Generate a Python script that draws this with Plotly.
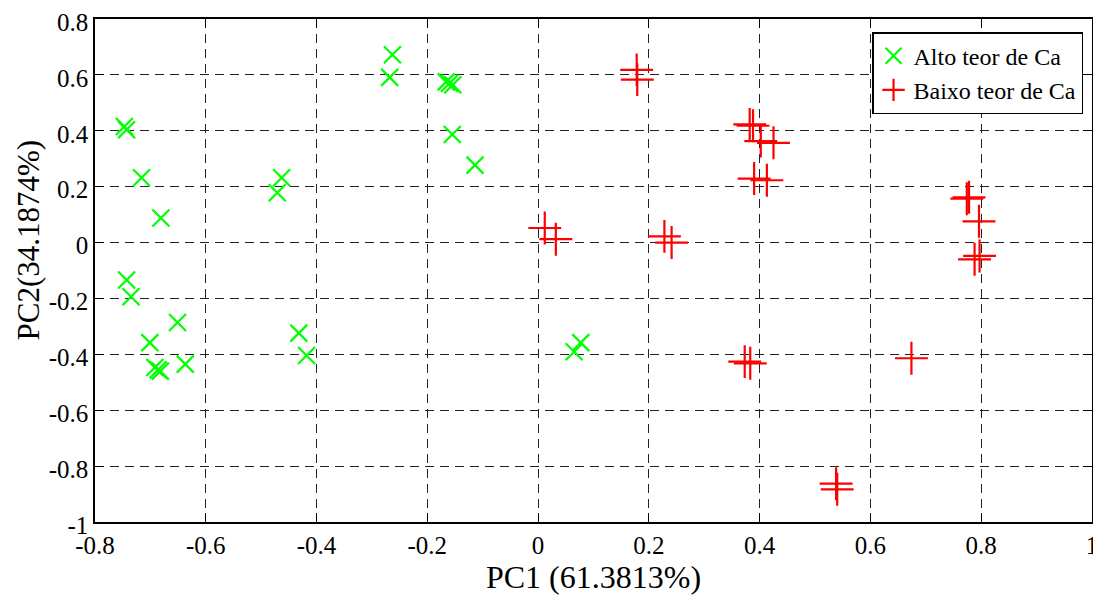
import plotly.graph_objects as go

# Alto teor de Ca (green x markers)
alto_pc1 = [-0.747, -0.743, -0.716, -0.681, -0.743, -0.735, -0.651, -0.701, -0.692, -0.686,
            -0.682, -0.637, -0.463, -0.471, -0.432, -0.418, -0.263, -0.268, -0.166, -0.160,
            -0.154, -0.155, -0.114, 0.077, 0.065]
alto_pc2 = [0.415, 0.404, 0.232, 0.088, -0.134, -0.194, -0.286, -0.358, -0.447, -0.455,
            -0.460, -0.435, 0.232, 0.178, -0.324, -0.404, 0.672, 0.591, 0.575, 0.570,
            0.565, 0.387, 0.277, -0.358, -0.391]

# Baixo teor de Ca (red + markers)
baixo_pc1 = [0.178, 0.179, 0.382, 0.388, 0.402, 0.425, 0.390, 0.413, 0.012, 0.032,
             0.228, 0.241, 0.774, 0.778, 0.796, 0.788, 0.797, 0.373, 0.383, 0.674,
             0.538, 0.540]
baixo_pc2 = [0.618, 0.583, 0.423, 0.418, 0.363, 0.357, 0.229, 0.223, 0.052, 0.012,
             0.022, 0.0, 0.157, 0.162, 0.076, -0.060, -0.048, -0.426, -0.432, -0.414,
             -0.863, -0.883]

series_names = ["Alto teor de Ca", "Baixo teor de Ca"]

x_tickvals = [-0.8, -0.6, -0.4, -0.2, 0, 0.2, 0.4, 0.6, 0.8, 1.0]
x_ticktext = ["-0.8", "-0.6", "-0.4", "-0.2", "0", "0.2", "0.4", "0.6", "0.8", "1"]
y_tickvals = [-1.0, -0.8, -0.6, -0.4, -0.2, 0, 0.2, 0.4, 0.6, 0.8]
y_ticktext = ["-1", "-0.8", "-0.6", "-0.4", "-0.2", "0", "0.2", "0.4", "0.6", "0.8"]

x_title = "PC1 (61.3813%)"
y_title = "PC2(34.1874%)"

FONT = "Times New Roman, Liberation Serif, serif"

fig = go.Figure()
fig.add_trace(go.Scatter(
    x=alto_pc1, y=alto_pc2, mode="markers", name=series_names[0],
    marker=dict(symbol="x-thin", size=17, color="#00ff00",
                line=dict(color="#00ff00", width=2.2)),
))
fig.add_trace(go.Scatter(
    x=baixo_pc1, y=baixo_pc2, mode="markers", name=series_names[1],
    marker=dict(symbol="cross-thin", size=23.5, color="#ff0000",
                line=dict(color="#ff0000", width=2.2)),
))

# page body has an 8px default margin, so the figure is sized to fit the window
fig.update_layout(
    width=1093, height=587,
    margin=dict(l=87, r=9, t=11, b=73, autoexpand=False),
    paper_bgcolor="white", plot_bgcolor="white",
    font=dict(family=FONT, color="black", size=25),
    legend=dict(x=0.991, y=0.974, xanchor="right", yanchor="top",
                bgcolor="white", bordercolor="black", borderwidth=1.5,
                font=dict(family=FONT, size=24, color="black"),
                tracegroupgap=0, itemsizing="trace"),
    showlegend=True,
)

axis_style = dict(
    showline=True, linecolor="black", linewidth=1.5, mirror="ticks",
    ticks="inside", ticklen=9, tickwidth=1, tickcolor="black",
    showgrid=True, gridcolor="#222222", gridwidth=1, griddash="9px,6px",
    zeroline=False, ticklabeloverflow="allow", automargin=False,
    tickfont_family=FONT, tickfont_size=25, tickfont_color="black",
)

fig.update_xaxes(range=[-0.8, 1.0], tickmode="array", tickvals=x_tickvals,
                 ticktext=x_ticktext, title_text=x_title, title_font_family=FONT,
                 title_font_size=32, title_standoff=6, **axis_style)
fig.update_yaxes(range=[-1.0, 0.8], tickmode="array", tickvals=y_tickvals,
                 ticktext=y_ticktext, ticklabelshift=3, **axis_style)

# y-axis title sits above the axis centre in the original, so place it as rotated text
fig.add_annotation(text=y_title, xref="paper", yref="paper", x=-0.067, y=0.56,
                   xanchor="center", yanchor="middle", textangle=-90, showarrow=False,
                   font=dict(family=FONT, size=31, color="black"))

fig.write_html("out.html")
